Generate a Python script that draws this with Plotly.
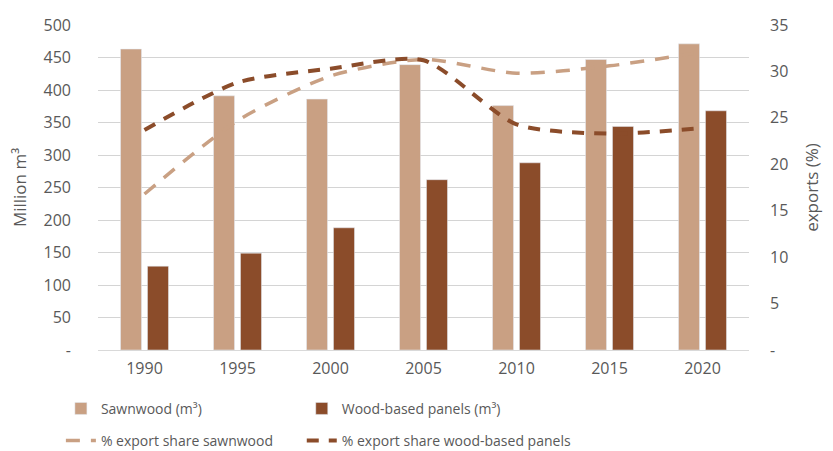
import plotly.graph_objects as go

years = ["1990", "1995", "2000", "2005", "2010", "2015", "2020"]
sawnwood = [463, 391, 386, 439, 376, 447, 471]
panels = [129, 149, 188, 262, 288, 344, 368]
share_sawnwood = [16.8, 24.7, 29.5, 31.3, 29.8, 30.6, 32.1]
share_panels = [23.7, 28.8, 30.3, 31.2, 24.3, 23.3, 23.9]

left_ticks = [0, 50, 100, 150, 200, 250, 300, 350, 400, 450, 500]
left_labels = ["-"] + [str(v) for v in left_ticks[1:]]
right_ticks = [0, 5, 10, 15, 20, 25, 30, 35]
right_labels = ["-"] + [str(v) for v in right_ticks[1:]]

C_LIGHT = "#C9A083"
C_DARK = "#8B4C2A"
GRAY = "#595959"
FONT = "Open Sans"

fig = go.Figure()
fig.add_trace(go.Bar(x=years, y=sawnwood, name="Sawnwood (m³)", marker_color=C_LIGHT,
                     legend="legend", showlegend=True))
fig.add_trace(go.Bar(x=years, y=panels, name="Wood-based panels (m³)", marker_color=C_DARK,
                     legend="legend2", showlegend=True))
fig.add_trace(go.Scatter(x=years, y=share_sawnwood, name="% export share sawnwood", yaxis="y2",
                         mode="lines", line=dict(color=C_LIGHT, width=3.5, dash="14px,11px",
                                                 shape="spline", smoothing=0.7),
                         legend="legend3", showlegend=True))
fig.add_trace(go.Scatter(x=years, y=share_panels, name="% export share wood-based panels", yaxis="y2",
                         mode="lines", line=dict(color=C_DARK, width=4, dash="12px,10px",
                                                 shape="spline", smoothing=0.7),
                         legend="legend4", showlegend=True))

def leg(x, y):
    return dict(orientation="h", x=x, xanchor="left", y=y, yanchor="middle", visible=True,
                font=dict(size=14, color=GRAY), bgcolor="rgba(0,0,0,0)")

# page body has an 8px default margin; figure is sized to fit inside the window
fig.update_layout(
    width=825, height=443,
    showlegend=True,
    margin=dict(l=90, r=84, t=17, b=101, autoexpand=False),
    paper_bgcolor="white", plot_bgcolor="white",
    font=dict(family=FONT, size=14, color=GRAY),
    barmode="group", bargap=0.42, bargroupgap=0.22,
    xaxis=dict(type="category", showgrid=False, showline=True, linecolor="#D9D9D9", linewidth=1,
               ticks="", ticklabelstandoff=4, tickfont=dict(size=16, color=GRAY)),
    yaxis=dict(range=[0, 500], tickvals=left_ticks, ticktext=left_labels, showgrid=True,
               gridcolor="#D4D4D4", gridwidth=1, zeroline=False, ticks="", ticklabelstandoff=26,
               title=dict(text="Million m³", font=dict(size=17, color=GRAY), standoff=13),
               tickfont=dict(size=16, color=GRAY)),
    yaxis2=dict(range=[0, 35], tickvals=right_ticks, ticktext=right_labels, overlaying="y", side="right",
                showgrid=False, zeroline=False, ticks="", ticklabelstandoff=20,
                title=dict(text="exports (%)", font=dict(size=17, color=GRAY), standoff=18),
                tickfont=dict(size=16, color=GRAY)),
    legend=leg(-0.057, -0.181),
    legend2=leg(0.313, -0.181),
    legend3=leg(-0.057, -0.28),
    legend4=leg(0.313, -0.28),
)

fig.write_html("out.html")
